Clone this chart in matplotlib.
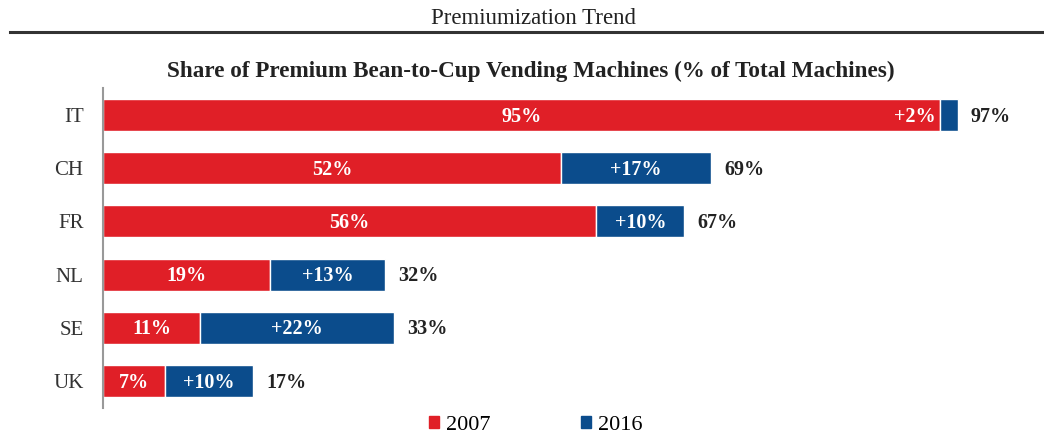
import matplotlib
matplotlib.use("Agg")
import matplotlib.pyplot as plt
from matplotlib.lines import Line2D
from matplotlib.patches import Patch

countries = ["IT", "CH", "FR", "NL", "SE", "UK"]
share_2007 = [95, 52, 56, 19, 11, 7]
change_2016 = [2, 17, 10, 13, 22, 10]
total_2016 = [97, 69, 67, 32, 33, 17]
years = ["2007", "2016"]

red = "#E01F27"
blue = "#0B4C8C"

plt.rcParams["font.family"] = ["Liberation Serif", "DejaVu Serif"]

fig = plt.figure(figsize=(10.44, 4.37), dpi=100)
ax = fig.add_axes([0.0987, 0.0673, 0.886, 0.7304])

pos = list(range(len(countries)))
ax.barh(pos, share_2007, height=0.6, color=red, edgecolor="white", linewidth=1)
ax.barh(pos, change_2016, left=share_2007, height=0.6, color=blue, edgecolor="white", linewidth=1)

for i, (a, d, t) in enumerate(zip(share_2007, change_2016, total_2016)):
    ax.text(a / 2, i + 0.03, f"{a}%", ha="center", va="center", color="white",
            fontsize=14.5, fontweight="bold")
    if d >= 5:
        ax.text(a + d / 2, i + 0.03, f"+{d}%", ha="center", va="center", color="white",
                fontsize=14.5, fontweight="bold")
    else:
        ax.text(a - 0.5, i + 0.03, f"+{d}%", ha="right", va="center", color="white",
                fontsize=14.5, fontweight="bold")
    ax.text(a + d + 1.5, i + 0.03, f"{t}%", ha="left", va="center", color="#222222",
            fontsize=14.5, fontweight="bold")

ax.set_xlim(0, 105)
ax.set_ylim(len(countries) - 0.5, -0.5)
ax.set_yticks(pos)
ax.set_yticklabels(countries, fontsize=15, color="#333333")
ax.set_xticks([])
ax.tick_params(axis="y", length=0, pad=14)
for s in ["top", "right", "bottom"]:
    ax.spines[s].set_visible(False)
ax.spines["left"].set_color("#999999")
ax.spines["left"].set_linewidth(1.5)

fig.text(0.511, 0.958, "Premiumization Trend", ha="center", va="center", fontsize=16.5, color="#222222")
fig.add_artist(Line2D([0.01, 1.0], [0.926, 0.926], color="#333333", linewidth=2.2))
fig.text(0.508, 0.836, "Share of Premium Bean-to-Cup Vending Machines (% of Total Machines)",
         ha="center", va="center", fontsize=16.7, fontweight="bold", color="#222222")

handles = [Patch(color=red, label=years[0]), Patch(color=blue, label=years[1])]
fig.legend(handles=handles, loc="center", bbox_to_anchor=(0.513, 0.027), ncol=2,
           frameon=False, fontsize=16, handlelength=0.45, handleheight=0.45,
           handletextpad=0.3, columnspacing=4.1)

fig.savefig("out.png", dpi=100)
